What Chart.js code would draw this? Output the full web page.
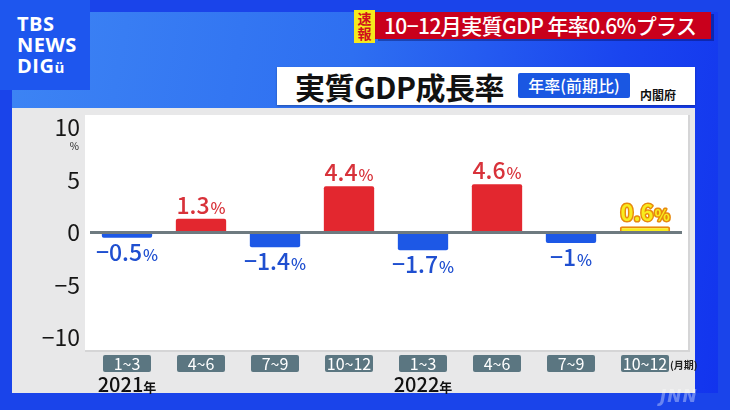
<!DOCTYPE html>
<html lang="ja">
<head>
<meta charset="utf-8">
<title>実質GDP成長率</title>
<script src="https://cdn.jsdelivr.net/npm/chart.js@4.4.1/dist/chart.umd.min.js"></script>
<style>
  html, body { margin: 0; padding: 0; }
  body {
    width: 730px; height: 410px; overflow: hidden; position: relative;
    background: #1a44ea;
    font-family: "Noto Sans CJK JP", "Noto Sans", sans-serif;
  }
  .panel {
    position: absolute; left: 12px; top: 12px; width: 706px; height: 381px;
    background: linear-gradient(100deg, #3d84f4 0%, #2e6ff1 45%, #1a45ef 80%, #1234ee 100%);
  }
  .logo-box { position: absolute; left: 0; top: 0; width: 90px; height: 90px; background: #1e56ee; }
  .logo {
    position: absolute; left: 17px; top: 13px; color: #fff; font-family: "Open Sans", sans-serif;
    font-weight: 700; font-size: 20px; line-height: 21px; letter-spacing: 0.5px;
  }
  .logo small { font-size: 15px; }
  .flash {
    position: absolute; left: 354px; top: 10px; width: 21px; height: 33px; background: #f5ea1c;
    color: #d0101c; font-weight: 700; font-size: 14px; line-height: 15px; text-align: center; padding-top: 1px;
    box-sizing: border-box;
  }
  .headline {
    position: absolute; left: 375px; top: 12px; width: 336px; height: 27px; background: #c9001c;
    color: #fff; font-size: 21px; line-height: 27px; font-weight: 500; padding-left: 9px; box-sizing: border-box;
    letter-spacing: -0.6px; white-space: nowrap; box-shadow: 3px 2px 0 rgba(0,0,60,0.35);
  }
  .title-box {
    position: absolute; left: 277px; top: 67px; width: 418px; height: 38px; background: #fff;
    box-shadow: 0 1px 2px rgba(0,0,0,0.3);
  }
  .title {
    position: absolute; left: 18px; top: 0; font-size: 30px; line-height: 38px; font-weight: 700; color: #111;
    letter-spacing: -0.5px;
  }
  .badge {
    position: absolute; left: 241px; top: 6px; width: 112px; height: 25px; background: #1a57e2; border-radius: 2px;
    color: #fff; font-size: 16px; line-height: 24px; text-align: center; font-weight: 500;
  }
  .source { position: absolute; left: 363px; top: 20px; font-size: 12px; line-height: 16px; font-weight: 700; color: #111; }
  .sheet { position: absolute; left: 12px; top: 108px; width: 683px; height: 285px; background: #e8e8e9; }
  .chart-wrap { position: absolute; left: 0; top: 0; width: 730px; height: 410px; }
  .jnn {
    position: absolute; left: 660px; top: 386px; color: rgba(255,255,255,0.35); font-family: "DejaVu Sans", sans-serif;
    font-weight: 700; font-style: italic; font-size: 17px; letter-spacing: 1px;
  }
</style>
</head>
<body>
  <div class="panel"></div>
  <div class="logo-box"></div>
  <div class="logo">TBS<br>NEWS<br>DIG<small>ü</small></div>
  <div class="flash">速<br>報</div>
  <div class="headline">10−12月実質GDP 年率0.6%プラス</div>
  <div class="title-box">
    <div class="title">実質GDP成長率</div>
    <div class="badge">年率(前期比)</div>
    <div class="source">内閣府</div>
  </div>
  <div class="sheet"></div>
  <div class="chart-wrap"><canvas id="gdp-chart"></canvas></div>
  <div class="jnn">JNN</div>

<script>
(function () {
  'use strict';

  // quarter labels, 2021 1~3 through 2022 10~12
  var quarters = ['1~3', '4~6', '7~9', '10~12', '1~3', '4~6', '7~9', '10~12'];
  var growth = [-0.5, 1.3, -1.4, 4.4, -1.7, 4.6, -1, 0.6];
  var yearLabels = ['2021年', '', '', '', '2022年', '', '', ''];
  var yTicks = [10, 5, 0, -5, -10];
  var latestIndex = 7;

  var RED = '#e3272f';
  var BLUE = '#1d58e6';
  var YELLOW = '#f8ec1e';
  var ORANGE = '#e8890c';
  var FONT = '"Noto Sans CJK JP", "Noto Sans", sans-serif';

  function barColor(v, i) {
    if (i === latestIndex) return YELLOW;
    return v < 0 ? BLUE : RED;
  }

  function fmt(v) {
    return (v < 0 ? '−' : '') + String(Math.abs(v));
  }

  // white plotting sheet behind the bars
  var sheetPlugin = {
    id: 'sheet',
    beforeDraw: function (chart) {
      var ca = chart.chartArea;
      var ctx = chart.ctx;
      ctx.save();
      ctx.fillStyle = 'rgba(0,0,0,0.08)';
      ctx.fillRect(ca.left - 5, ca.top, ca.width + 13, ca.height + 2);
      ctx.fillStyle = '#ffffff';
      ctx.fillRect(ca.left - 5, ca.top, ca.width + 11, ca.height);
      ctx.restore();
    }
  };

  // value labels on each bar: number + smaller %
  var valueLabels = {
    id: 'valueLabels',
    afterDatasetsDraw: function (chart) {
      var ctx = chart.ctx;
      var meta = chart.getDatasetMeta(0);
      ctx.save();
      ctx.textBaseline = 'alphabetic';
      ctx.textAlign = 'left';
      meta.data.forEach(function (bar, i) {
        var v = growth[i];
        var num = fmt(v);
        var numFont = '500 23px ' + FONT;
        var pctFont = '500 16px ' + FONT;
        ctx.font = numFont;
        var wNum = ctx.measureText(num).width;
        ctx.font = pctFont;
        var wPct = ctx.measureText('%').width;
        var x0 = bar.x - (wNum + wPct + 1) / 2;
        var y = v < 0 ? bar.y + 23 : bar.y - 5;

        if (i === latestIndex) {
          ctx.lineJoin = 'round';
          ctx.strokeStyle = ORANGE;
          ctx.lineWidth = 3;
          ctx.fillStyle = YELLOW;
          ctx.font = '700 22px ' + FONT;
          wNum = ctx.measureText(num).width;
          x0 = bar.x - (wNum + wPct + 1) / 2;
          ctx.strokeText(num, x0, y);
          ctx.fillText(num, x0, y);
          ctx.font = '700 16px ' + FONT;
          ctx.strokeText('%', x0 + wNum + 1, y);
          ctx.fillText('%', x0 + wNum + 1, y);
          return;
        }
        ctx.fillStyle = v < 0 ? '#1f4fd0' : '#d8323a';
        ctx.font = numFont;
        ctx.fillText(num, x0, y);
        ctx.font = pctFont;
        ctx.fillText('%', x0 + wNum + 1, y);
      });
      ctx.restore();
    }
  };

  // quarter boxes, years and the unit marks
  var quarterAxis = {
    id: 'quarterAxis',
    afterDraw: function (chart) {
      var ctx = chart.ctx;
      var xs = chart.scales.x;
      var ys = chart.scales.y;
      var ca = chart.chartArea;
      var top = ca.bottom + 5;
      ctx.save();
      quarters.forEach(function (q, i) {
        var x = xs.getPixelForValue(i);
        ctx.fillStyle = '#5b7681';
        ctx.beginPath();
        ctx.roundRect(x - 24, top, 48, 17, 2);
        ctx.fill();
        ctx.fillStyle = '#ffffff';
        ctx.font = '400 16px ' + FONT;
        ctx.textAlign = 'center';
        ctx.textBaseline = 'middle';
        ctx.fillText(q, x, top + 9);

        if (yearLabels[i]) {
          var yr = yearLabels[i].replace('年', '');
          ctx.font = '500 20px ' + FONT;
          var w1 = ctx.measureText(yr).width;
          ctx.font = '700 13px ' + FONT;
          var w2 = ctx.measureText('年').width;
          var sx = x - (w1 + w2) / 2;
          ctx.textAlign = 'left';
          ctx.textBaseline = 'alphabetic';
          ctx.fillStyle = '#111111';
          ctx.font = '500 20px ' + FONT;
          ctx.fillText(yr, sx, top + 37);
          ctx.font = '700 13px ' + FONT;
          ctx.fillText('年', sx + w1, top + 37);
        }
      });
      var last = xs.getPixelForValue(quarters.length - 1);
      ctx.fillStyle = '#222222';
      ctx.font = '700 10px ' + FONT;
      ctx.textAlign = 'left';
      ctx.textBaseline = 'middle';
      ctx.fillText('(月期)', last + 25, top + 10);

      // % unit under the top tick
      ctx.font = '400 10px ' + FONT;
      ctx.textAlign = 'right';
      ctx.fillStyle = '#222222';
      ctx.fillText('%', 79, ys.getPixelForValue(yTicks[0]) + 19);
      ctx.restore();
    }
  };

  var ctx = document.getElementById('gdp-chart').getContext('2d');

  new Chart(ctx, {
    type: 'bar',
    data: {
      labels: quarters,
      datasets: [{
        data: growth,
        backgroundColor: growth.map(barColor),
        borderColor: growth.map(function (v, i) { return i === latestIndex ? ORANGE : 'transparent'; }),
        borderWidth: growth.map(function (v, i) { return i === latestIndex ? 2 : 0; }),
        borderSkipped: 'bottom',
        borderRadius: 2,
        barPercentage: 0.68,
        categoryPercentage: 1
      }]
    },
    options: {
      responsive: true,
      maintainAspectRatio: false,
      animation: false,
      devicePixelRatio: 1,
      layout: { padding: { left: 40, right: 48, top: 115, bottom: 60 } },
      plugins: { legend: { display: false }, tooltip: { enabled: false } },
      scales: {
        x: { display: false },
        y: {
          min: -11.2,
          max: 11.2,
          afterFit: function (s) { s.width = 50; },
          afterBuildTicks: function (s) {
            s.ticks = yTicks.map(function (v) { return { value: v }; });
          },
          border: { display: false },
          grid: {
            drawTicks: false,
            lineWidth: 3,
            color: function (c) { return c.tick && c.tick.value === 0 ? '#6e7a80' : 'transparent'; }
          },
          ticks: {
            padding: 10,
            color: '#151515',
            font: { family: FONT, size: 23, weight: '400' },
            callback: function (v) { return String(v).replace('-', '−'); }
          }
        }
      }
    },
    plugins: [sheetPlugin, valueLabels, quarterAxis]
  });
})();
</script>
</body>
</html>
